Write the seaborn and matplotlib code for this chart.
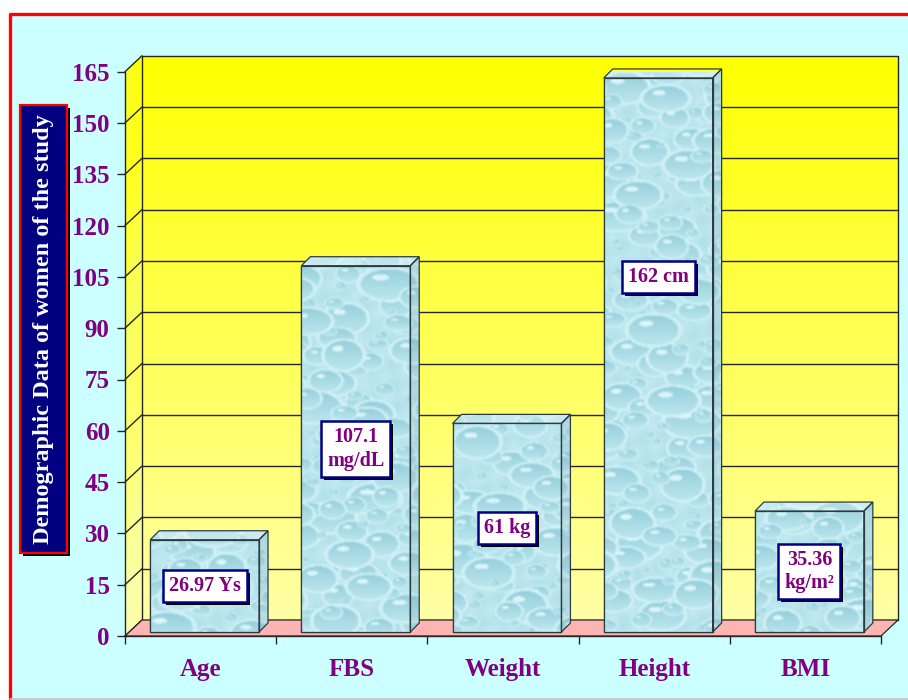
import numpy as np
import matplotlib
matplotlib.use("Agg")
import matplotlib.pyplot as plt
import seaborn as sns
from matplotlib.patches import Polygon, Rectangle
from matplotlib.transforms import IdentityTransform, offset_copy
from matplotlib.colors import LinearSegmentedColormap

# ---- data ----
categories = ["Age", "FBS", "Weight", "Height", "BMI"]
values = [26.97, 107.1, 61, 162, 35.36]
value_labels = ["26.97 Ys", "107.1\nmg/dL", "61 kg", "162 cm", "35.36\nkg/m²"]
y_ticks = list(range(0, 166, 15))
y_title = "Demographic Data of women of the study"

# ---- style ----
W, H, DPI = 908, 700, 100
PURPLE = "#800080"
NAVY = "#000080"
SERIF = ["Liberation Serif", "DejaVu Serif"]
label_frac = [0.5, 0.5, 0.5, 0.64, 0.5]   # label height as a share of the bar
WALL = (17, 16)    # depth of the back wall, pixels
BAR_SHIFT = (4, 4)  # bar plane behind the front edge, pixels
BAR_DEPTH = (9, 9)

sns.set_style("white")
plt.rcParams["font.family"] = SERIF
plt.rcParams["font.weight"] = "bold"

fig = plt.figure(figsize=(W / DPI, H / DPI), dpi=DPI)
fig.patch.set_facecolor("white")
ID = IdentityTransform()

# page background with red frame on the left and top
fig.add_artist(Rectangle((10, 1), 910, 685, transform=ID,
                         facecolor="#CCFFFF", edgecolor="none", zorder=-5))
fig.add_artist(plt.Line2D([10, 10, 912], [1, 686, 686], transform=ID,
                          color="#FF0000", linewidth=2.4, zorder=-4))
fig.add_artist(plt.Line2D([10, 912], [1, 1], transform=ID,
                          color="#C8C0C0", linewidth=1.2, zorder=-4))

ax = fig.add_axes([125 / W, (H - 636) / H, (881 - 125) / W, (636 - 71.7) / H])
ax.set_facecolor("none")
ax.set_autoscale_on(False)
ax.set_xlim(-0.5, 4.5)
ax.set_ylim(0, 165)

sns.barplot(x=categories, y=values, ax=ax, width=0.72, color="#B4E2EA",
            saturation=1, edgecolor="#2b3b40", linewidth=0.9, zorder=4)
ax.set_xlim(-0.5, 4.5)
ax.set_ylim(0, 165)


def px(x, y, dx=0, dy=0):
    X, Y = ax.transData.transform((x, y))
    return (X + dx, Y + dy)


def poly(pts, **kw):
    p = Polygon(pts, closed=True, transform=ID, clip_on=False, **kw)
    ax.add_patch(p)
    return p


# ---- walls and floor ----
wall_cmap = LinearSegmentedColormap.from_list("wall", ["#FFFFA6", "#FFFF00"])
N = 140
for i in range(N):
    y0 = 165 * i / N
    y1 = 165 * (i + 1) / N + 0.01
    c = wall_cmap(i / (N - 1))
    poly([px(-0.5, y0, *WALL), px(4.5, y0, *WALL), px(4.5, y1, *WALL),
          px(-0.5, y1, *WALL)], facecolor=c, edgecolor="none", zorder=0.1)
    poly([px(-0.5, y0), px(-0.5, y0, *WALL), px(-0.5, y1, *WALL),
          px(-0.5, y1)], facecolor=c, edgecolor="none", zorder=0.1)

GRID = dict(color="#262626", linewidth=1.0, zorder=0.5, clip_on=False,
            transform=ID)
for t in y_ticks:
    a, b = px(-0.5, t), px(-0.5, t, *WALL)
    ax.add_line(plt.Line2D([a[0], b[0]], [a[1], b[1]], **GRID))
    c = px(4.5, t, *WALL)
    ax.add_line(plt.Line2D([b[0], c[0]], [b[1], c[1]], **GRID))
for xe in (-0.5, 4.5):
    a, b = px(xe, 0, *WALL), px(xe, 165, *WALL)
    ax.add_line(plt.Line2D([a[0], b[0]], [a[1], b[1]], **GRID))

poly([px(-0.5, 0), px(4.5, 0), px(4.5, 0, *WALL), px(-0.5, 0, *WALL)],
     facecolor="#FFB4B4", edgecolor="#262626", linewidth=0.9, zorder=0.6)


# ---- water-drop texture for the bars ----
def halton(i, b):
    f, r = 1.0, 0.0
    while i > 0:
        f /= b
        r += f * (i % b)
        i //= b
    return r


def box_blur(a, k):
    out = a.copy()
    for axis in (0, 1):
        acc = np.zeros_like(out)
        for s in range(-k, k + 1):
            acc += np.roll(out, s, axis=axis)
        out = acc / (2 * k + 1)
    return out


x_lo, y_lo = px(-0.5, 0)
x_hi, y_hi = px(4.5, 165, 20, 20)
tw, th = int(x_hi - x_lo) + 2, int(y_hi - y_lo) + 2
yy, xx = np.mgrid[0:th, 0:tw].astype(float)
tex = 0.68 + 0.05 * np.sin(xx / 5.0 + yy / 8.0) * np.sin(yy / 6.3 - xx / 9.1)
n_drops = int(tw * th / 420)
for k in range(1, n_drops + 1):
    cx, cy = halton(k, 2) * tw, halton(k, 3) * th
    r = 3 + 15 * halton(k, 5) ** 1.8
    rx, ry = r * (1.1 + 0.5 * halton(k, 7)), r * 0.85
    xa, xb = int(max(cx - 1.5 * rx, 0)), int(min(cx + 1.5 * rx + 1, tw))
    ya, yb = int(max(cy - 1.5 * ry, 0)), int(min(cy + 1.5 * ry + 1, th))
    if xb <= xa or yb <= ya:
        continue
    sx, sy = xx[ya:yb, xa:xb], yy[ya:yb, xa:xb]
    d = ((sx - cx) / rx) ** 2 + ((sy - cy) / ry) ** 2
    sub = tex[ya:yb, xa:xb]
    rim = (d >= 1) & (d < 1.4)
    sub[rim] = np.maximum(sub[rim], 0.82)
    inside = d < 1
    shade = 0.56 + 0.13 * (sy - cy) / ry
    sub[inside] = shade[inside]
    hl = ((sx - (cx - 0.3 * rx)) / (0.30 * rx)) ** 2 + \
         ((sy - (cy - 0.45 * ry)) / (0.20 * ry)) ** 2 < 1
    sub[hl] = 0.88
tex = box_blur(tex, 1)
water = LinearSegmentedColormap.from_list(
    "water", ["#8ECBD9", "#ABDCE6", "#C4EBF1", "#EBFAFC"])

bar_tr = offset_copy(ax.transData, fig=fig, x=BAR_SHIFT[0], y=BAR_SHIFT[1],
                     units="dots")
dx, dy = BAR_DEPTH
for p in ax.patches[:len(values)]:
    p.set_transform(bar_tr)
    p.set_clip_on(False)
    (x0, y0), (x1, y1) = bar_tr.transform(
        [(p.get_x(), p.get_y()), (p.get_x() + p.get_width(), p.get_y() + p.get_height())])
    faces = [
        ([(x0, y0), (x1, y0), (x1, y1), (x0, y1)], None),
        ([(x1, y0), (x1 + dx, y0 + dy), (x1 + dx, y1 + dy), (x1, y1)], ("black", 0.05)),
        ([(x0, y1), (x1, y1), (x1 + dx, y1 + dy), (x0 + dx, y1 + dy)], ("white", 0.25)),
    ]
    for pts, tint in faces:
        clip = Polygon(pts, closed=True, transform=ID)
        im = ax.imshow(tex, cmap=water, vmin=0.38, vmax=0.95, origin="upper",
                       extent=(x_lo, x_lo + tw, y_lo, y_lo + th),
                       transform=ID, interpolation="bilinear",
                       aspect="auto", zorder=4.2)
        im.set_clip_path(clip)
        if tint is not None:
            poly(pts, facecolor=tint[0], alpha=tint[1], edgecolor="none", zorder=4.3)
        poly(pts, facecolor="none", edgecolor="#2b3b40", linewidth=0.9, zorder=4.4)

ax.set_xlim(-0.5, 4.5)
ax.set_ylim(0, 165)

# ---- value labels in framed boxes ----
labels = []
for i, (v, lab) in enumerate(zip(values, value_labels)):
    t = ax.text(i, v * label_frac[i], lab, transform=bar_tr, color=PURPLE,
                ha="center", va="center", fontsize=14.5, fontweight="bold",
                family=SERIF, linespacing=1.25, clip_on=False, zorder=6,
                bbox=dict(boxstyle="square,pad=0.3", facecolor="white",
                          edgecolor=NAVY, linewidth=1.8))
    labels.append(t)

# ---- axes, ticks ----
for s in ("top", "right"):
    ax.spines[s].set_visible(False)
for s in ("left", "bottom"):
    ax.spines[s].set_color("#262626")
    ax.spines[s].set_linewidth(1.0)
    ax.spines[s].set_zorder(3)

ax.set_yticks(y_ticks)
ax.set_yticklabels([str(t) for t in y_ticks])
ax.tick_params(axis="y", length=6, width=1.0, color="#262626", pad=5,
               labelsize=18, labelcolor=PURPLE, left=True, direction="out")
ax.set_xticks(range(len(categories)))
ax.set_xticklabels(categories)
ax.set_xticks(np.arange(-0.5, len(categories)), minor=True)
ax.tick_params(axis="x", which="major", length=0, pad=16, labelsize=18,
               labelcolor=PURPLE)
ax.tick_params(axis="x", which="minor", length=6, width=1.0, color="#262626",
               direction="out", bottom=True)
for lbl in ax.get_xticklabels() + ax.get_yticklabels():
    lbl.set_fontweight("bold")
    lbl.set_family(SERIF)
ax.set_xlabel("")
ax.set_ylabel("")

# drop shadows behind the label boxes
fig.canvas.draw()
for t in labels:
    bb = t.get_bbox_patch().get_window_extent()
    ax.add_patch(Rectangle((bb.x0 + 3, bb.y0 - 3), bb.width, bb.height,
                           transform=ID, facecolor="black", edgecolor="none",
                           clip_on=False, zorder=5.5))

# ---- y title in a framed box ----
fig.add_artist(Rectangle((23, 144), 47, 448, transform=ID,
                         facecolor="black", edgecolor="none", zorder=2))
fig.add_artist(Rectangle((20, 147), 47, 448, transform=ID,
                         facecolor=NAVY, edgecolor="#FF0000", linewidth=1.6,
                         zorder=3))
fig.text(43.5 / W, 371 / H, y_title, rotation=90, ha="center", va="center",
         color="white", fontsize=17.5, fontweight="bold", family=SERIF,
         zorder=4)

fig.savefig("out.png", dpi=DPI, facecolor=fig.get_facecolor())
